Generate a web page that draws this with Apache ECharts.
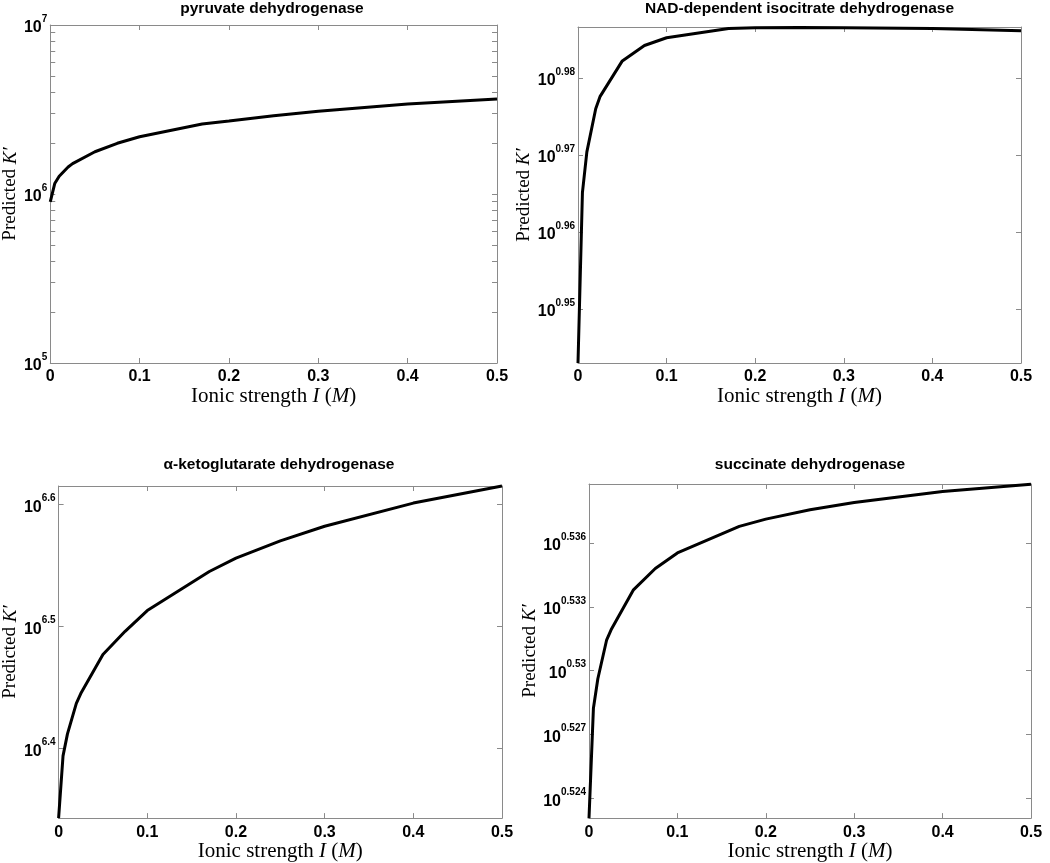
<!DOCTYPE html>
<html><head><meta charset="utf-8">
<script src="https://cdn.jsdelivr.net/npm/echarts@6/dist/echarts.min.js"></script>
<style>html,body{margin:0;padding:0;background:#fff}#c{width:1050px;height:863px}</style>
</head><body><div id="c"></div>
<script>
// Ionic strength I (M)
const ionicStrength = [0, 0.005, 0.01, 0.02, 0.025, 0.05, 0.075, 0.1, 0.17, 0.2, 0.25, 0.3, 0.4, 0.5];
// log10 of predicted K' for each enzyme
const pyruvateLogK = [5.954, 6.062, 6.105, 6.16, 6.18, 6.25, 6.30, 6.339, 6.414, 6.432, 6.463, 6.49, 6.533, 6.562];
const isocitrateLogK = [0.9430, 0.9651, 0.9704, 0.9760, 0.9776, 0.9822, 0.9842, 0.9852, 0.9864, 0.9865, 0.98655, 0.9865, 0.9864, 0.9861];
const ketoglutarateLogK = [6.343, 6.394, 6.412, 6.437, 6.445, 6.477, 6.496, 6.513, 6.545, 6.556, 6.570, 6.582, 6.601, 6.615];
const succinateLogK = [0.52306, 0.52823, 0.52962, 0.53145, 0.53192, 0.53378, 0.53480, 0.53553, 0.53678, 0.53712, 0.53756, 0.5379, 0.53842, 0.53876];
// y tick exponents
const pyruvateTicks = [5, 6, 7];
const isocitrateTicks = [0.95, 0.96, 0.97, 0.98];
const ketoglutarateTicks = [6.4, 6.5, 6.6];
const succinateTicks = [0.524, 0.527, 0.530, 0.533, 0.536];
// y ranges (exponent)
const pyruvateRange = [5, 7];
const isocitrateRange = [0.943, 0.9866];
const ketoglutarateRange = [6.343, 6.615];
const succinateRange = [0.52307, 0.53877];
const titles = ['pyruvate dehydrogenase', 'NAD-dependent isocitrate dehydrogenase', 'α-ketoglutarate dehydrogenase', 'succinate dehydrogenase'];

const panels = [
  {grid:{left:47, top:25, width:450, height:338}, data:pyruvateLogK, ticks:pyruvateTicks, range:pyruvateRange, title:titles[0], titleTop:1, nameGap:28, minor:true},
  {grid:{left:578, top:27, width:443, height:336}, data:isocitrateLogK, ticks:isocitrateTicks, range:isocitrateRange, title:titles[1], titleTop:1, nameGap:37},
  {grid:{left:56, top:486, width:446, height:334}, data:ketoglutarateLogK, ticks:ketoglutarateTicks, range:ketoglutarateRange, title:titles[2], titleTop:457, nameGap:38},
  {grid:{left:589, top:484, width:442, height:336}, data:succinateLogK, ticks:succinateTicks, range:succinateRange, title:titles[3], titleTop:457, nameGap:48}
];

const FRAME = '#8a8a8a';
const SANS = 'Liberation Sans, Arial, sans-serif';
const SERIF = 'Liberation Serif, Times New Roman, serif';
const fmtNum = v => String(parseFloat(Number(v).toFixed(4)));

const option = {animation:false, backgroundColor:'#fff', title:[], grid:[], xAxis:[], yAxis:[], series:[]};

panels.forEach((p, i) => {
  option.grid.push(Object.assign({containLabel:false}, p.grid));
  option.title.push({
    text: p.title, left: p.grid.left + p.grid.width/2, top: p.titleTop, textAlign:'center', padding:0,
    textStyle:{fontFamily:SANS, fontSize:15.5, fontWeight:'bold', color:'#000'}
  });
  const tickStyle = {show:true, inside:true, length:5, lineStyle:{color:FRAME, width:1}};
  let tickVals = p.ticks.slice();
  if (p.minor) {
    for (let d = p.range[0]; d < p.range[1]; d++) {
      for (let k = 2; k <= 9; k++) tickVals.push(d + Math.log10(k));
    }
  }
  const xIdx = option.xAxis.length;
  option.xAxis.push({
    type:'value', gridIndex:i, min:0, max:0.5, interval:0.1, position:'bottom',
    axisLine:{show:true, onZero:false, lineStyle:{color:FRAME, width:1}},
    axisTick:tickStyle, splitLine:{show:false},
    axisLabel:{margin:6, fontFamily:SANS, fontSize:16, fontWeight:'bold', color:'#000', formatter:fmtNum},
    name:'{n|Ionic strength }{i|I}{n| (}{i|M}{n|)}', nameLocation:'middle', nameGap:16,
    nameTextStyle:{rich:{n:{fontFamily:SERIF, fontSize:21, color:'#000'}, i:{fontFamily:SERIF, fontSize:21, fontStyle:'italic', color:'#000'}}}
  });
  option.xAxis.push({
    type:'value', gridIndex:i, min:0, max:0.5, interval:0.1, position:'top',
    axisLine:{show:true, onZero:false, lineStyle:{color:FRAME, width:1}},
    axisTick:tickStyle, splitLine:{show:false}, axisLabel:{show:false}
  });
  const yIdx = option.yAxis.length;
  const yBase = {type:'value', gridIndex:i, min:p.range[0], max:p.range[1], splitLine:{show:false}};
  option.yAxis.push(Object.assign({}, yBase, {
    position:'left',
    axisLine:{show:true, onZero:false, lineStyle:{color:FRAME, width:1}},
    axisTick:Object.assign({}, tickStyle, {customValues:tickVals}),
    axisLabel:{
      customValues:p.ticks, margin:3, color:'#000',
      formatter: v => '{b|10}{s|' + fmtNum(v) + '}',
      rich:{
        b:{fontFamily:SANS, fontSize:16, fontWeight:'bold', color:'#000', lineHeight:16, padding:[6,0,0,0]},
        s:{fontFamily:SANS, fontSize:10, fontWeight:'bold', color:'#000', lineHeight:10, padding:[0,0,12,0]}
      }
    },
    name:'{n|Predicted }{i|K′}', nameLocation:'middle', nameGap:p.nameGap,
    nameTextStyle:{rich:{n:{fontFamily:SERIF, fontSize:19, color:'#000'}, i:{fontFamily:SERIF, fontSize:19, fontStyle:'italic', color:'#000'}}}
  }));
  option.yAxis.push(Object.assign({}, yBase, {
    position:'right',
    axisLine:{show:true, onZero:false, lineStyle:{color:FRAME, width:1}},
    axisTick:Object.assign({}, tickStyle, {customValues:tickVals}),
    axisLabel:{show:false}
  }));
  option.series.push({
    type:'line', xAxisIndex:xIdx, yAxisIndex:yIdx, showSymbol:false, symbol:'none',
    lineStyle:{color:'#000', width:3}, clip:false,
    data: ionicStrength.map((x, j) => [x, p.data[j]])
  });
});

const chart = echarts.init(document.getElementById('c'), null, {renderer:'canvas'});
chart.setOption(option);
</script></body></html>
